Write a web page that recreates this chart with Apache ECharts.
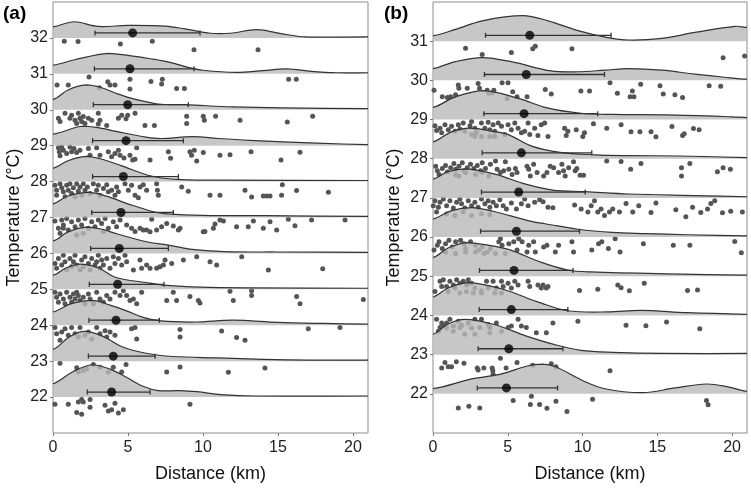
<!DOCTYPE html>
<html><head><meta charset="utf-8">
<script src="https://cdn.jsdelivr.net/npm/echarts@6/dist/echarts.min.js"></script>
<style>html,body{margin:0;padding:0;background:#fff}#c{width:751px;height:488px}</style>
</head><body><div id="c"></div>
<script>
const xTicks = [0, 5, 10, 15, 20];
const tempsA = [32, 31, 30, 29, 28, 27, 26, 25, 24, 23, 22];
const tempsB = [31, 30, 29, 28, 27, 26, 25, 24, 23, 22];

// density ridge heights [distance, height] per temperature (panel a, order of tempsA)
const densityA = [
  [[0,0.31],[1.4,0.45],[3.0,0.32],[5.0,0.35],[7.5,0.33],[8.8,0.25],[10.5,0.13],[11.8,0.13],[13.6,0.23],[15.2,0.12],[16.8,0.03],[21,0.03]],
  [[0,0.24],[1.5,0.4],[3.7,0.57],[5.2,0.5],[6.5,0.42],[7.8,0.32],[9,0.18],[10,0.1],[12.2,0.04],[14,0.09],[15.6,0.14],[17.2,0.07],[18.9,0.03],[21,0.03]],
  [[0,0.29],[1,0.55],[2.2,0.69],[3.2,0.62],[4.2,0.46],[5.5,0.29],[7,0.16],[8.8,0.14],[12,0.08],[15.3,0.05],[21,0.03]],
  [[0,0.32],[1.9,0.54],[3,0.5],[4.3,0.39],[6.2,0.24],[7.2,0.2],[9.3,0.25],[11,0.2],[13.1,0.15],[17.6,0.07],[21,0.03]],
  [[0,0.37],[1,0.58],[2.2,0.7],[3.2,0.63],[4.5,0.45],[6.4,0.17],[8.2,0.06],[11,0.04],[21,0.03]],
  [[0,0.38],[1,0.6],[2.4,0.7],[3.5,0.6],[5.3,0.34],[7.2,0.12],[10,0.06],[14,0.05],[21,0.03]],
  [[0,0.34],[1,0.6],[2.2,0.73],[3.2,0.68],[4.3,0.54],[6.4,0.31],[7.6,0.24],[9.1,0.12],[11.4,0.05],[15,0.04],[21,0.03]],
  [[0,0.39],[0.9,0.6],[1.8,0.7],[3,0.6],[4.2,0.33],[6.2,0.19],[7.6,0.11],[9.8,0.06],[13,0.04],[21,0.03]],
  [[0,0.37],[1.2,0.6],[2.6,0.69],[3.8,0.56],[4.9,0.4],[6,0.22],[7.2,0.12],[9.5,0.09],[12,0.14],[15,0.08],[18,0.05],[21,0.03]],
  [[0,0.33],[1.1,0.68],[2.1,0.83],[3.4,0.68],[4.6,0.4],[6.2,0.22],[8,0.13],[11,0.09],[14,0.05],[17,0.03],[21,0.03]],
  [[0,0.37],[1.3,0.7],[2.6,0.9],[3.8,0.78],[4.9,0.55],[6,0.3],[7,0.18],[8.4,0.18],[9.6,0.15],[11.2,0.07],[13.5,0.03],[21,0.03]]
];
const densityB = [
  [[0,0.14],[1.5,0.3],[3.3,0.52],[6,0.65],[7.7,0.52],[9.7,0.27],[11.7,0.09],[13.1,0.03],[15.3,0.07],[17.6,0.23],[20.2,0.38],[21,0.35]],
  [[0,0.3],[1.5,0.48],[3.3,0.58],[5.3,0.47],[7.9,0.24],[9.7,0.22],[11.5,0.26],[13.1,0.3],[15.3,0.26],[17.5,0.16],[19.5,0.08],[21,0.03]],
  [[0,0.31],[1.5,0.58],[3.4,0.74],[5.7,0.54],[7.7,0.29],[9.9,0.16],[12,0.13],[15.6,0.12],[20,0.07],[21,0.05]],
  [[0,0.43],[1.2,0.68],[2.5,0.78],[4,0.7],[5,0.62],[6.6,0.32],[8.5,0.16],[10.8,0.1],[13,0.08],[16.5,0.07],[21,0.03]],
  [[0,0.48],[1,0.67],[2.2,0.74],[4.2,0.6],[6.2,0.35],[8,0.2],[10.2,0.16],[13.1,0.1],[17.5,0.06],[21,0.03]],
  [[0,0.46],[1.2,0.67],[2.6,0.75],[4,0.66],[5.2,0.54],[6.8,0.38],[7.5,0.34],[9.7,0.2],[12,0.12],[14.2,0.09],[17,0.06],[21,0.03]],
  [[0,0.48],[1,0.72],[2.2,0.86],[3.6,0.8],[5.1,0.68],[7.2,0.36],[9,0.16],[10.6,0.11],[15.7,0.06],[21,0.03]],
  [[0,0.47],[1,0.7],[2.3,0.84],[3.7,0.76],[5,0.63],[7.2,0.32],[9,0.12],[11.7,0.09],[13.9,0.13],[17,0.07],[21,0.03]],
  [[0,0.52],[1,0.78],[2.1,0.9],[4.1,0.77],[6.2,0.48],[8.3,0.24],[9.9,0.11],[12,0.06],[15.5,0.03],[21,0.03]],
  [[0,0.13],[2.6,0.38],[4.6,0.51],[6.3,0.71],[7.3,0.76],[8.2,0.69],[10,0.34],[11.5,0.13],[14,0.03],[16.2,0.15],[18.3,0.25],[19.8,0.17],[21,0.06]]
];

// means and error bar ends
const meanA = [5.31, 5.13, 4.98, 4.87, 4.69, 4.53, 4.42, 4.31, 4.2, 4.02, 3.91];
const lowA  = [2.8, 2.76, 2.69, 2.64, 2.64, 2.58, 2.51, 2.42, 2.4, 2.36, 2.29];
const highA = [9.8, 9.4, 9.02, 8.69, 8.36, 8.02, 7.69, 7.4, 7.09, 6.8, 6.47];
const meanB = [6.47, 6.24, 6.09, 5.91, 5.73, 5.58, 5.42, 5.24, 5.07, 4.91];
const lowB  = [3.51, 3.44, 3.4, 3.29, 3.24, 3.18, 3.11, 3.09, 3.02, 2.96];
const highB = [11.91, 11.47, 11.02, 10.62, 10.18, 9.8, 9.36, 9.02, 8.69, 8.33];

// individual observations [distance, jittered temperature]
const pointsA = [
  [0.75,31.91],[1.67,31.9],[4.49,31.83],[6.62,31.91],[9.4,31.67],[13.67,31.67],
  [0.27,30.69],[1.02,30.69],[2.4,30.91],[3.09,30.61],[3.65,30.78],[3.8,30.69],[4.13,30.69],[5.13,30.85],[5.13,30.58],[6.53,30.79],[7.29,30.85],[7.24,30.72],[8.24,30.59],[8.76,30.59],[15.71,30.85],[16.22,30.85],
  [0.36,29.76],[0.47,29.67],[0.8,29.9],[1.13,29.76],[1.24,29.85],[1.47,29.71],[1.58,29.62],[1.69,29.9],[1.8,29.76],[1.91,29.67],[2.02,29.81],[2.13,29.62],[2.36,29.76],[2.58,29.71],[3.02,29.9],[3.02,29.6],[3.13,29.71],[3.58,29.56],[4.36,29.76],[4.58,29.85],[4.87,29.75],[4.98,29.85],[5.47,29.9],[6.13,29.56],[6.76,29.56],[8.91,29.82],[8.91,29.62],[10.02,29.82],[10.09,29.71],[10.84,29.82],[12.47,29.71],[15.62,29.66],[17.31,29.82],
  [0.36,28.94],[0.42,28.83],[0.47,28.72],[0.58,28.96],[0.69,28.87],[0.91,28.78],[1.13,28.96],[1.24,28.83],[1.4,28.92],[1.58,28.81],[1.8,28.87],[2.36,28.92],[2.47,28.73],[2.91,28.94],[3.13,28.73],[3.69,28.83],[3.91,28.69],[4.13,28.78],[4.36,28.87],[4.47,28.73],[4.73,28.66],[5.13,28.73],[5.31,28.6],[5.58,28.94],[5.47,28.62],[6.47,28.6],[7.69,28.83],[7.84,28.65],[9.13,28.83],[9.24,28.73],[9.42,28.87],[9.58,28.57],[10.02,28.81],[11.13,28.73],[11.8,28.75],[13.2,28.83],[15.2,28.6],[16.47,28.82],
  [0.13,27.9],[0.24,27.76],[0.24,27.62],[0.47,27.94],[0.58,27.83],[0.69,27.72],[0.8,27.58],[0.91,27.9],[1.02,27.76],[1.13,27.94],[1.24,27.67],[1.36,27.83],[1.47,27.58],[1.58,27.94],[1.69,27.73],[1.8,27.85],[1.91,27.62],[2.02,27.94],[2.13,27.76],[2.29,27.85],[2.47,27.67],[2.69,27.94],[2.91,27.76],[3.02,27.9],[3.13,27.62],[3.36,27.81],[3.58,27.91],[3.69,27.72],[3.91,27.76],[4.13,27.62],[4.24,27.85],[4.36,27.72],[4.8,27.94],[5.02,27.76],[5.24,27.9],[5.47,27.62],[5.69,27.55],[5.8,27.85],[6.02,27.91],[6.24,27.76],[6.91,27.94],[6.96,27.76],[7.02,27.62],[8.58,27.85],[9.02,27.73],[10.47,27.62],[11.13,27.62],[12.8,27.76],[13.24,27.57],[14.02,27.6],[14.24,27.6],[14.47,27.6],[15.29,27.91],[15.24,27.62],[16.24,27.75],[18.36,27.7],
  [0.13,26.9],[0.36,26.7],[0.58,26.93],[0.69,26.79],[0.91,26.97],[1.02,26.65],[1.24,26.88],[1.47,26.74],[1.69,26.93],[1.91,26.79],[2.13,26.97],[2.36,26.7],[2.58,26.88],[2.8,26.74],[3.02,26.93],[3.24,26.83],[3.47,26.97],[3.69,26.7],[4.02,26.88],[4.24,26.74],[4.47,26.93],[4.91,26.79],[5.24,26.7],[5.47,26.61],[5.8,26.7],[6.24,26.65],[6.58,26.95],[6.91,26.65],[7.24,26.74],[7.58,26.83],[8.02,26.76],[8.47,26.7],[10.13,26.61],[10.69,26.7],[10.8,26.82],[11.13,26.93],[11.36,26.9],[12.24,26.74],[13.02,26.74],[13.36,26.9],[14.02,26.7],[14.47,26.88],[14.91,26.65],[15.69,26.95],[16.13,26.77],[17.24,26.93],[19.47,26.93],
  [0.47,26.56],[2.02,26.56],[3.36,26.61],[1.58,26.51],[0.69,26.7],[6.02,26.65],[6.47,26.6],[8.36,26.65],[10.02,26.6],
  [0.13,25.72],[0.24,25.59],[0.36,25.86],[0.58,25.68],[0.69,25.95],[0.8,25.77],[0.91,25.54],[1.13,25.86],[1.24,25.63],[1.36,25.77],[1.47,25.95],[1.58,25.68],[1.8,25.54],[1.91,25.82],[2.02,25.63],[2.13,25.91],[2.36,25.72],[2.47,25.54],[2.58,25.86],[2.8,25.68],[2.91,25.77],[3.02,25.95],[3.13,25.59],[3.24,25.82],[3.36,25.68],[3.58,25.86],[3.8,25.59],[4.02,25.91],[4.13,25.72],[4.36,25.86],[4.58,25.68],[4.8,25.95],[4.91,25.77],[5.36,25.54],[5.8,25.82],[5.91,25.59],[6.24,25.68],[6.47,25.59],[6.91,25.59],[7.13,25.63],[7.36,25.68],[7.47,25.82],[7.91,25.72],[8.69,25.82],[9.58,25.91],[10.47,25.77],[10.91,25.68],[12.58,25.91],[14.36,25.54],[17.98,25.57],
  [0.13,24.92],[0.24,24.78],[0.36,24.64],[0.47,24.87],[0.69,24.73],[0.8,24.6],[0.91,24.92],[1.13,24.78],[1.24,24.64],[1.36,24.87],[1.47,24.73],[1.58,24.92],[1.69,24.83],[1.8,24.69],[2.02,24.78],[2.13,24.6],[2.36,24.87],[2.47,24.73],[2.69,24.6],[2.91,24.92],[3.13,24.73],[3.36,24.64],[3.58,24.83],[3.8,24.73],[4.13,24.92],[4.47,24.83],[4.69,24.96],[4.91,24.83],[5.13,24.69],[5.36,24.73],[5.58,24.6],[5.91,24.92],[7.58,24.69],[8.02,24.92],[8.24,24.69],[9.13,24.8],[9.69,24.69],[9.8,24.62],[11.8,24.95],[12.02,24.69],[13.24,24.96],[13.24,24.83],[16.24,24.8],[16.47,24.6],[20.69,24.72],
  [0.13,23.94],[0.24,23.76],[0.47,23.58],[0.58,23.81],[0.8,23.9],[1.02,23.72],[1.24,23.94],[1.47,23.76],[1.69,23.67],[1.8,23.94],[2.13,23.72],[2.36,23.81],[2.58,23.62],[2.91,23.94],[3.13,23.76],[3.47,23.85],[3.58,23.67],[3.8,23.81],[4.13,23.72],[5.24,23.9],[5.47,23.94],[5.58,23.62],[8.47,23.88],[8.47,23.67],[11.24,23.84],[12.24,23.66],[12.8,23.58],[17.02,23.9],[19.13,23.94],
  [0.47,22.94],[1.58,22.82],[1.69,22.7],[2.02,22.74],[2.24,22.79],[2.69,22.91],[3.13,22.83],[3.69,22.7],[4.02,22.83],[4.58,22.7],[4.87,22.91],[7.58,22.7],[8.47,22.84],[11.69,22.69],[14.13,22.81],
  [0.13,21.8],[1.02,21.8],[1.69,21.86],[1.91,21.93],[2.02,21.86],[2.47,21.93],[2.47,21.72],[3.47,21.77],[1.58,21.57],[1.91,21.52],[3.69,21.61],[3.91,21.65],[4.13,21.83],[4.36,21.56],[4.69,21.65],[9.13,21.8]
];
const pointsB = [
  [2.18,30.82],[3.29,30.66],[5.24,30.71],[6.67,30.81],[6.84,30.87],[9.29,30.81],[19.4,30.58],[20.84,30.62],
  [0.07,29.75],[0.62,29.58],[0.96,29.56],[1.18,29.58],[1.51,29.63],[1.69,29.88],[1.73,29.8],[2.29,29.8],[3.02,29.92],[3.11,29.8],[3.62,29.75],[3.73,29.67],[3.96,29.68],[4.07,29.75],[4.62,29.94],[5.02,29.94],[4.96,29.54],[5.33,29.71],[5.62,29.58],[6.29,29.58],[7.51,29.77],[7.91,29.65],[9.89,29.73],[10.47,29.73],[11.84,29.94],[12.33,29.67],[13.33,29.73],[13.18,29.58],[13.44,29.58],[13.89,29.9],[15.18,29.86],[15.4,29.65],[16.18,29.63],[16.69,29.56],[18.47,29.86],[19.24,29.85],
  [0.13,28.84],[0.24,28.72],[0.47,28.78],[0.58,28.66],[0.8,28.87],[1.02,28.74],[1.24,28.83],[1.47,28.7],[1.69,28.87],[1.8,28.76],[2.02,28.91],[2.13,28.7],[2.47,28.84],[2.58,28.95],[2.58,28.62],[2.8,28.78],[2.91,28.67],[2.8,28.57],[3.24,28.91],[3.24,28.57],[3.47,28.78],[3.69,28.93],[3.8,28.74],[3.8,28.57],[4.02,28.87],[4.13,28.7],[4.13,28.57],[4.36,28.91],[4.58,28.83],[4.8,28.62],[5.02,28.87],[5.24,28.74],[5.47,28.91],[5.69,28.78],[5.91,28.66],[6.13,28.7],[6.36,28.91],[6.47,28.62],[6.8,28.78],[7.02,28.59],[7.24,28.87],[7.47,28.91],[7.69,28.57],[8.8,28.78],[9.02,28.7],[8.91,28.59],[9.58,28.74],[10.02,28.57],[10.13,28.66],[10.73,28.89],[11.62,28.78],[12.58,28.87],[13.24,28.69],[13.84,28.69],[14.58,28.69],[14.91,28.56],[15.98,28.82],[16.69,28.59],[16.8,28.64],[17.42,28.77],[17.8,28.74],
  [0.18,27.81],[0.29,27.69],[0.4,27.6],[0.62,27.75],[0.84,27.83],[0.96,27.66],[1.18,27.77],[1.4,27.88],[1.51,27.73],[1.51,27.59],[1.73,27.81],[1.73,27.56],[1.96,27.9],[2.07,27.69],[2.18,27.65],[2.29,27.77],[2.51,27.86],[2.73,27.75],[2.84,27.6],[2.96,27.83],[3.18,27.69],[3.29,27.9],[3.29,27.65],[3.51,27.75],[3.73,27.56],[3.84,27.86],[4.18,27.94],[4.29,27.73],[4.51,27.65],[4.73,27.69],[4.84,27.92],[5.07,27.73],[5.29,27.6],[5.51,27.75],[5.62,27.65],[6.29,27.81],[6.4,27.73],[6.51,27.56],[6.73,27.86],[6.96,27.65],[7.4,27.56],[7.62,27.65],[7.84,27.81],[8.07,27.77],[8.4,27.65],[8.62,27.86],[8.73,27.69],[8.84,27.56],[9.07,27.77],[9.4,27.92],[9.51,27.69],[9.62,27.75],[9.84,27.58],[10.07,27.58],[11.62,27.94],[12.58,27.93],[13.22,27.73],[13.91,27.88],[16.62,27.77],[16.62,27.56],[17.18,27.88],[19.02,27.67],[19.4,27.77],[19.89,27.73],
  [0.02,26.8],[0.13,26.93],[0.36,26.76],[0.47,26.89],[0.69,26.97],[0.91,26.8],[1.13,26.93],[1.36,26.74],[1.58,26.89],[1.8,26.97],[1.91,26.85],[2.13,26.74],[2.36,26.93],[2.58,26.8],[2.8,26.89],[3.02,26.76],[3.24,26.97],[3.47,26.85],[3.69,26.93],[3.8,26.76],[4.02,26.89],[4.24,26.8],[4.47,26.95],[4.69,26.8],[4.91,26.72],[5.24,26.87],[5.58,26.72],[5.91,26.85],[6.13,26.97],[6.36,26.8],[6.8,26.89],[7.13,26.95],[7.36,26.9],[7.69,26.76],[8.02,26.75],[9.47,26.82],[9.91,26.72],[10.36,26.64],[10.58,26.8],[10.8,26.93],[11.02,26.64],[11.24,26.72],[11.47,26.55],[11.8,26.64],[12.02,26.72],[12.47,26.64],[12.91,26.86],[13.36,26.64],[13.76,26.8],[14.58,26.63],[14.91,26.87],[16.24,26.7],[16.91,26.52],[17.36,26.76],[17.91,26.63],[18.36,26.72],[18.58,26.86],[18.84,26.93],[19.36,26.62],[19.91,26.66],[20.69,26.64],
  [0.24,26.64],[0.91,26.59],[1.47,26.55],[2.02,26.64],[2.58,26.55],[3.24,26.59],[3.8,26.57],
  [0.07,25.67],[0.29,25.79],[0.4,25.88],[0.62,25.71],[0.84,25.83],[1.07,25.92],[1.29,25.75],[1.51,25.88],[1.84,25.92],[2.07,25.83],[2.18,25.71],[2.51,25.88],[2.84,25.79],[3.07,25.67],[3.29,25.75],[3.62,25.62],[3.84,25.71],[4.18,25.58],[4.4,25.88],[4.51,25.96],[4.62,25.79],[4.84,25.58],[5.07,25.83],[5.4,25.88],[5.62,25.67],[5.73,25.96],[5.96,25.88],[6.29,25.62],[6.4,25.79],[6.73,25.88],[6.84,25.62],[7.4,25.75],[7.62,25.79],[8.18,25.62],[8.4,25.79],[9.29,25.88],[9.4,25.62],[10.62,25.67],[11.07,25.83],[11.29,25.88],[11.73,25.71],[12.18,25.96],[12.51,25.62],[14.07,25.83],[16.07,25.79],[17.18,25.79],[20.18,25.89],[20.62,25.6],
  [0.84,25.62],[1.51,25.58],[2.18,25.62],[2.84,25.62],[3.4,25.58],
  [0.13,24.61],[0.47,24.87],[0.69,24.91],[0.91,24.74],[1.13,24.87],[1.36,24.78],[1.58,24.91],[1.8,24.82],[2.02,24.87],[2.24,24.78],[2.36,24.91],[2.58,24.82],[2.8,24.7],[3.24,24.57],[3.58,24.87],[4.02,24.87],[4.24,24.7],[4.58,24.87],[4.69,24.74],[5.02,24.82],[5.24,24.7],[5.47,24.87],[5.69,24.78],[6.36,24.87],[6.47,24.74],[7.02,24.78],[7.24,24.7],[7.36,24.78],[7.58,24.7],[7.69,24.74],[9.8,24.64],[11.02,24.67],[12.36,24.78],[12.58,24.71],[13.13,24.63],[14.13,24.82],[17.02,24.64],[17.69,24.65],
  [0.58,24.74],[1.02,24.61],[1.47,24.7],[1.8,24.57],[2.24,24.61],[2.69,24.57],[3.24,24.63],[3.69,24.7],[4.13,24.57],[4.58,24.57],
  [0.24,23.9],[0.47,23.69],[0.69,23.75],[0.91,23.81],[1.13,23.9],[1.36,23.73],[1.69,23.85],[1.91,23.75],[2.36,23.81],[2.8,23.9],[3.24,23.9],[3.69,23.77],[3.8,23.69],[4.24,23.81],[5.02,23.69],[5.24,23.73],[5.69,23.9],[5.91,23.73],[6.24,23.69],[6.91,23.56],[7.58,23.56],[8.02,23.81],[9.69,23.85],[12.91,23.75],[14.24,23.74],[15.62,23.83],[17.84,23.66],
  [0.36,23.6],[0.58,23.81],[0.91,23.68],[1.36,23.6],[1.8,23.69],[2.13,23.52],[2.58,23.68],[2.8,23.52],[3.13,23.69],[3.8,23.56],[4.58,23.6],
  [0.58,22.66],[0.8,22.8],[1.02,22.69],[1.24,22.69],[1.56,22.82],[2.07,22.78],[2.96,22.66],[3.02,22.61],[3.4,22.66],[3.96,22.66],[4.0,22.59],[4.02,22.5],[4.51,22.91],[4.89,22.66],[5.62,22.8],[6.67,22.73],[7.91,22.77],[8.22,22.69],[11.84,22.59],
  [1.69,21.64],[2.4,21.68],[3.13,21.64],[5.36,21.83],[6.58,21.94],[6.51,21.73],[7.13,21.73],[7.62,21.63],[8.22,21.81],[8.96,21.55],[10.67,21.86],[18.29,21.83],[18.4,21.72]
];

const FONT = '"Liberation Sans", Arial, Helvetica, sans-serif';
const OFFSET = [0.14, 0.15];      // vertical placement of mean marker above baseline
const FILL = 'rgba(185,185,185,0.8)';
const LINE = '#333';

function bbox(pts) {
  let x0 = Infinity, y0 = Infinity, x1 = -Infinity, y1 = -Infinity;
  pts.forEach(p => { x0 = Math.min(x0, p[0]); y0 = Math.min(y0, p[1]); x1 = Math.max(x1, p[0]); y1 = Math.max(y1, p[1]); });
  return [[x0, y0], [x1, y1]];
}

function ridges(panel, temps, dens) {
  return {
    type: 'custom', xAxisIndex: panel, yAxisIndex: panel, z: 3, silent: true, clip: true,
    encode: { x: 0, y: 1 },
    data: temps.map((t, i) => [0, t, i]),
    renderItem: function (params, api) {
      const i = params.dataIndex;
      const t = temps[i];
      const d = dens[i];
      const h0 = d[0][1], hn = d[d.length - 1][1];
      // curve extended horizontally beyond the plotting window so smoothing ends are clipped away
      const curve = [api.coord([-1.5, t + h0])]
        .concat(d.map(p => api.coord([p[0], t + p[1]])))
        .concat([api.coord([22.5, t + hn])]);
      const poly = curve.concat([api.coord([22.5, t]), api.coord([-1.5, t])]);
      const box = bbox(poly);
      return { type: 'group', children: [
        { type: 'polygon', shape: { points: poly, smooth: 0.35, smoothConstraint: box },
          style: { fill: FILL, stroke: null } },
        { type: 'polyline', shape: { points: curve, smooth: 0.35, smoothConstraint: box },
          style: { fill: null, stroke: LINE, lineWidth: 1.2 } }
      ]};
    }
  };
}

function errBars(panel, temps, lo, hi) {
  const off = OFFSET[panel];
  return {
    type: 'custom', xAxisIndex: panel, yAxisIndex: panel, z: 4, silent: true,
    encode: { x: [0, 1], y: 2 },
    data: temps.map((t, i) => [lo[i], hi[i], t]),
    renderItem: function (params, api) {
      const y = api.value(2) + off;
      const a = api.coord([api.value(0), y]);
      const b = api.coord([api.value(1), y]);
      const st = { stroke: LINE, lineWidth: 1.3 };
      return { type: 'group', children: [
        { type: 'line', shape: { x1: a[0], y1: a[1], x2: b[0], y2: b[1] }, style: st },
        { type: 'line', shape: { x1: a[0], y1: a[1] - 2.5, x2: a[0], y2: a[1] + 2.5 }, style: st },
        { type: 'line', shape: { x1: b[0], y1: b[1] - 2.5, x2: b[0], y2: b[1] + 2.5 }, style: st }
      ]};
    }
  };
}

function means(panel, temps, m) {
  const off = OFFSET[panel];
  return {
    type: 'scatter', xAxisIndex: panel, yAxisIndex: panel, z: 5, silent: true,
    symbolSize: 9, itemStyle: { color: '#000' },
    data: temps.map((t, i) => [m[i], t + off])
  };
}

function pts(panel, data) {
  return {
    type: 'scatter', xAxisIndex: panel, yAxisIndex: panel, z: 2, silent: true,
    symbolSize: 5, itemStyle: { color: '#555', opacity: 1 },
    data: data
  };
}

function xAx(idx) {
  return {
    gridIndex: idx, type: 'value', min: 0, max: 21,
    axisLine: { show: false },
    axisTick: { show: true, length: 3, lineStyle: { color: '#777' }, customValues: xTicks },
    axisLabel: { fontSize: 16, color: '#222', margin: 7, fontFamily: FONT, customValues: xTicks },
    splitLine: { show: false },
    name: 'Distance (km)', nameLocation: 'middle', nameGap: 32,
    nameTextStyle: { fontSize: 18, color: '#111', fontFamily: FONT }
  };
}
function yAx(idx, temps, max) {
  return {
    gridIndex: idx, type: 'value', min: 21, max: max,
    axisLine: { show: false },
    axisTick: { show: true, length: 3, lineStyle: { color: '#777' }, customValues: temps },
    axisLabel: { fontSize: 16, color: '#222', margin: 5, fontFamily: FONT, customValues: temps },
    splitLine: { show: false },
    name: 'Temperature (°C)', nameLocation: 'middle', nameGap: 30, nameRotate: 90,
    nameTextStyle: { fontSize: 18, color: '#111', fontFamily: FONT }
  };
}

const chart = echarts.init(document.getElementById('c'), null, { renderer: 'canvas' });
chart.setOption({
  animation: false,
  backgroundColor: '#fff',
  grid: [
    { left: 53, top: 2, width: 315, height: 435, show: true, borderColor: '#8c8c8c', borderWidth: 1, backgroundColor: 'transparent' },
    { left: 433, top: 2, width: 314, height: 435, show: true, borderColor: '#8c8c8c', borderWidth: 1, backgroundColor: 'transparent' }
  ],
  xAxis: [xAx(0), xAx(1)],
  yAxis: [yAx(0, tempsA, 33), yAx(1, tempsB, 32)],
  graphic: [
    { type: 'text', left: 3, top: 4, style: { text: '(a)', font: 'bold 19px ' + FONT, fill: '#000' } },
    { type: 'text', left: 384, top: 4, style: { text: '(b)', font: 'bold 19px ' + FONT, fill: '#000' } }
  ],
  series: [
    pts(0, pointsA), pts(1, pointsB),
    ridges(0, tempsA, densityA), ridges(1, tempsB, densityB),
    errBars(0, tempsA, lowA, highA), errBars(1, tempsB, lowB, highB),
    means(0, tempsA, meanA), means(1, tempsB, meanB)
  ]
});
</script></body></html>
